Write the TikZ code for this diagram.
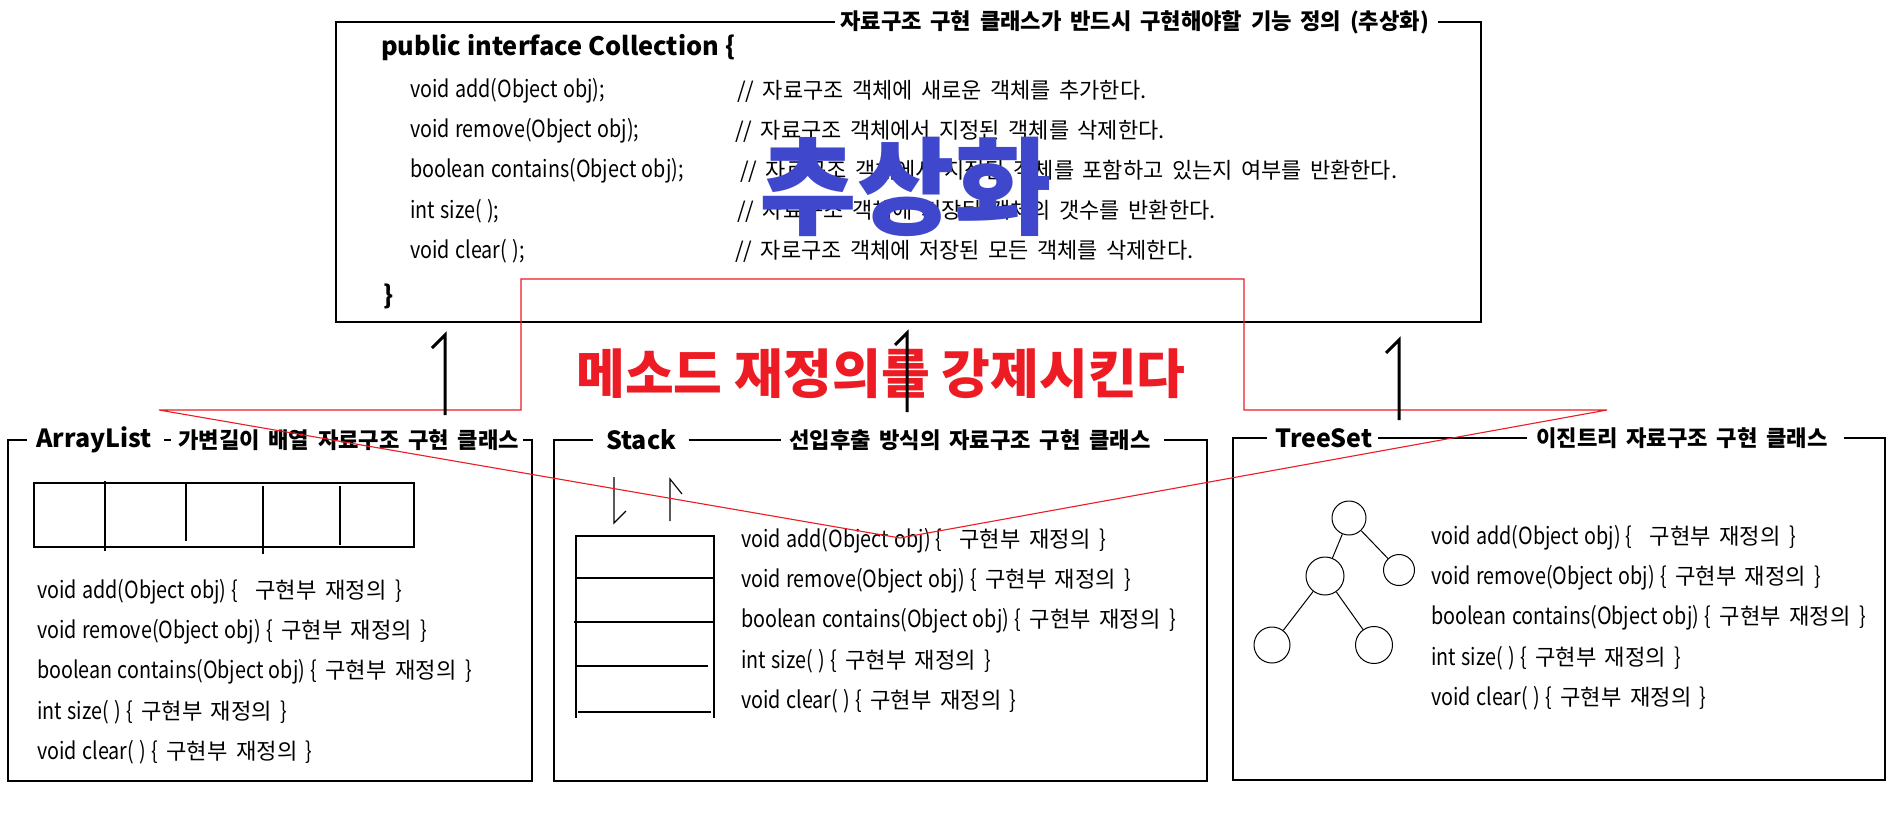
\documentclass[tikz,border=0pt]{standalone}
\usepackage{fontspec}
\setmainfont{Noto Sans CJK KR}[WordSpace=1.7]
\newfontfamily\plainf{Noto Sans CJK KR}
\newfontfamily\latf{Noto Sans CJK KR}[FakeStretch=0.84, WordSpace=1.2]
\newcommand\cdx[1]{{\fontsize{23.5}{28}\selectfont\latf #1}}
\definecolor{redc}{RGB}{237,28,36}
\definecolor{bluec}{RGB}{63,72,204}
\tikzset{
  frame/.style={draw=black, line width=1.3pt},
  ttl/.style={font=\fontsize{22.2}{25}\selectfont\bfseries, inner sep=0pt, anchor=west},
  ttlL/.style={font=\fontsize{25}{29}\selectfont\plainf\bfseries, inner sep=0pt, anchor=west},
  pubf/.style={font=\fontsize{25.4}{29}\selectfont\plainf\bfseries, inner sep=0pt, anchor=west},
  code/.style={font=\fontsize{23.5}{28}\selectfont\latf, inner sep=0pt, anchor=west},
  cmt/.style={font=\fontsize{22}{26}\selectfont, inner sep=0pt, anchor=west},
  meth/.style={font=\fontsize{22.2}{26}\selectfont, inner sep=0pt, anchor=west},
  fig/.style={draw=black, line width=1.1pt},
  tc/.style={draw=black, line width=1pt, circle, inner sep=0pt},
  redl/.style={draw=redc, line width=1.1pt, line join=miter},
  onemark/.style={draw=black, line width=3pt, line join=miter},
}
\begin{document}
\begin{tikzpicture}[x=1pt, y=-1pt]
\fill[white] (0,0) rectangle (1887,825);
\useasboundingbox (0,0) rectangle (1887,825);

% ---------- top interface box ----------
\node[ttl] (ctitle) at (840,22) {자료구조 구현 클래스가 반드시 구현해야할 기능 정의 (추상화)};
\draw[frame] ([xshift=-5pt]ctitle.west) -- (336,22) -- (336,322) -- (1481,322) -- (1481,22) -- ([xshift=9pt]ctitle.east);
\node[pubf] (pub) at (381,48) {public interface Collection \{};
\node[code] (c1) at (410,91)  {void add(Object obj);};
\node[code] (c2) at (410,131) {void remove(Object obj);};
\node[code] (c3) at (410,171) {boolean contains(Object obj);};
\node[code] (c4) at (410,211) {int size( );};
\node[code] (c5) at (410,251) {void clear( );};
\node[cmt] (k1) at (737,91)  {// 자료구조 객체에 새로운 객체를 추가한다.};
\node[cmt] (k2) at (735,131) {// 자료구조 객체에서 지정된 객체를 삭제한다.};
\node[cmt] (k3) at (740,171) {// 자료구조 객체에서 지정된 객체를 포함하고 있는지 여부를 반환한다.};
\node[cmt] (k4) at (737,211) {// 자료구조 객체에 저장된 객체의 갯수를 반환한다.};
\node[cmt] (k5) at (735,251) {// 자로구조 객체에 저장된 모든 객체를 삭제한다.};
\node[pubf] (close) at (383,296) {\}};

% ---------- ArrayList box ----------
\node[ttlL] (al) at (36,440) {ArrayList};
\node[ttl] (aldesc) at (178,440) {가변길이 배열 자료구조 구현 클래스};
\draw[frame] ([xshift=-9pt]al.west) -- (8,440) -- (8,781) -- (532,781) -- (532,440) -- ([xshift=4pt]aldesc.east);
\draw[frame] ([xshift=-14pt]aldesc.west) -- ([xshift=-7pt]aldesc.west);
\draw[fig] (34,483) rectangle (414,547);
\draw[fig] (105,481) -- (105,551);
\draw[fig] (186,484) -- (186,541);
\draw[fig] (263,486) -- (263,554);
\draw[fig] (340,486) -- (340,545);
\node[meth] (a1) at (37,592) {\cdx{void add(Object obj) \{}\ \ 구현부 재정의 \cdx{\}}};
\node[meth] (a2) at (37,632) {\cdx{void remove(Object obj) \{} 구현부 재정의 \cdx{\}}};
\node[meth] (a3) at (37,672) {\cdx{boolean contains(Object obj) \{} 구현부 재정의 \cdx{\}}};
\node[meth] (a4) at (37,712) {\cdx{int size( ) \{} 구현부 재정의 \cdx{\}}};
\node[meth] (a5) at (37,752) {\cdx{void clear( ) \{} 구현부 재정의 \cdx{\}}};

% ---------- Stack box ----------
\node[ttlL] (st) at (606,440) {Stack};
\node[ttl] (stdesc) at (789,440) {선입후출 방식의 자료구조 구현 클래스};
\draw[frame] ([xshift=-13pt]st.west) -- (554,440) -- (554,781) -- (1207,781) -- (1207,440) -- ([xshift=13pt]stdesc.east);
\draw[frame] ([xshift=12pt]st.east) -- ([xshift=-8pt]stdesc.west);
\draw[fig] (614,477) -- (614,523) -- (626,511);
\draw[fig] (670,521) -- (670,479) -- (682,494);
\draw[fig] (576,718) -- (576,536) -- (714,536) -- (714,718);
\draw[fig] (576,578) -- (714,578);
\draw[fig] (574,622) -- (714,622);
\draw[fig] (576,666) -- (708,666);
\draw[fig] (578,712) -- (711,712);
\node[meth] (s1) at (741,541) {\cdx{void add(Object obj) \{}\ \ 구현부 재정의 \cdx{\}}};
\node[meth] (s2) at (741,581) {\cdx{void remove(Object obj) \{} 구현부 재정의 \cdx{\}}};
\node[meth] (s3) at (741,621) {\cdx{boolean contains(Object obj) \{} 구현부 재정의 \cdx{\}}};
\node[meth] (s4) at (741,661) {\cdx{int size( ) \{} 구현부 재정의 \cdx{\}}};
\node[meth] (s5) at (741,701) {\cdx{void clear( ) \{} 구현부 재정의 \cdx{\}}};

% ---------- TreeSet box ----------
\node[ttlL] (ts) at (1275,438) {TreeSet};
\node[ttl] (tsdesc) at (1536,438) {이진트리 자료구조 구현 클래스};
\draw[frame] ([xshift=-8pt]ts.west) -- (1233,438) -- (1233,780) -- (1885,780) -- (1885,438) -- ([xshift=16pt]tsdesc.east);
\draw[frame] ([xshift=6pt]ts.east) -- ([xshift=-9pt]tsdesc.west);
\node[tc, minimum size=34pt] (t1) at (1349,518) {};
\node[tc, minimum size=38pt] (t2) at (1325,576) {};
\node[tc, minimum size=31pt] (t3) at (1399,570) {};
\node[tc, minimum size=36pt] (t4) at (1272,645) {};
\node[tc, minimum size=37pt] (t5) at (1374,645) {};
\draw[line width=1pt] (t1) -- (t2);
\draw[line width=1pt] (t1) -- (t3);
\draw[line width=1pt] (t2) -- (t4);
\draw[line width=1pt] (t2) -- (t5);
\node[meth] (r1) at (1431,538) {\cdx{void add(Object obj) \{}\ \ 구현부 재정의 \cdx{\}}};
\node[meth] (r2) at (1431,578) {\cdx{void remove(Object obj) \{} 구현부 재정의 \cdx{\}}};
\node[meth] (r3) at (1431,618) {\cdx{boolean contains(Object obj) \{} 구현부 재정의 \cdx{\}}};
\node[meth] (r4) at (1431,658) {\cdx{int size( ) \{} 구현부 재정의 \cdx{\}}};
\node[meth] (r5) at (1431,698) {\cdx{void clear( ) \{} 구현부 재정의 \cdx{\}}};

% ---------- overlays ----------
\node[font=\fontsize{106}{110}\selectfont\plainf\bfseries, text=bluec, inner sep=0pt] (abs) at (906,187) {추상화};
\draw[redl] (159,410) -- (521,410) -- (521,279) -- (1244,279) -- (1244,410) -- (1607,410) -- (900,538) -- cycle;
\node[font=\fontsize{53}{58}\selectfont\plainf\bfseries, text=redc, inner sep=0pt] (force) at (881,374) {메소드 재정의를 강제시킨다};
\draw[onemark] (432,348) -- (445,335) -- (445,415);
\draw[onemark] (895,345) -- (907,333) -- (907,412);
\draw[onemark] (1386,353) -- (1399,340) -- (1399,420);
\end{tikzpicture}
\end{document}
